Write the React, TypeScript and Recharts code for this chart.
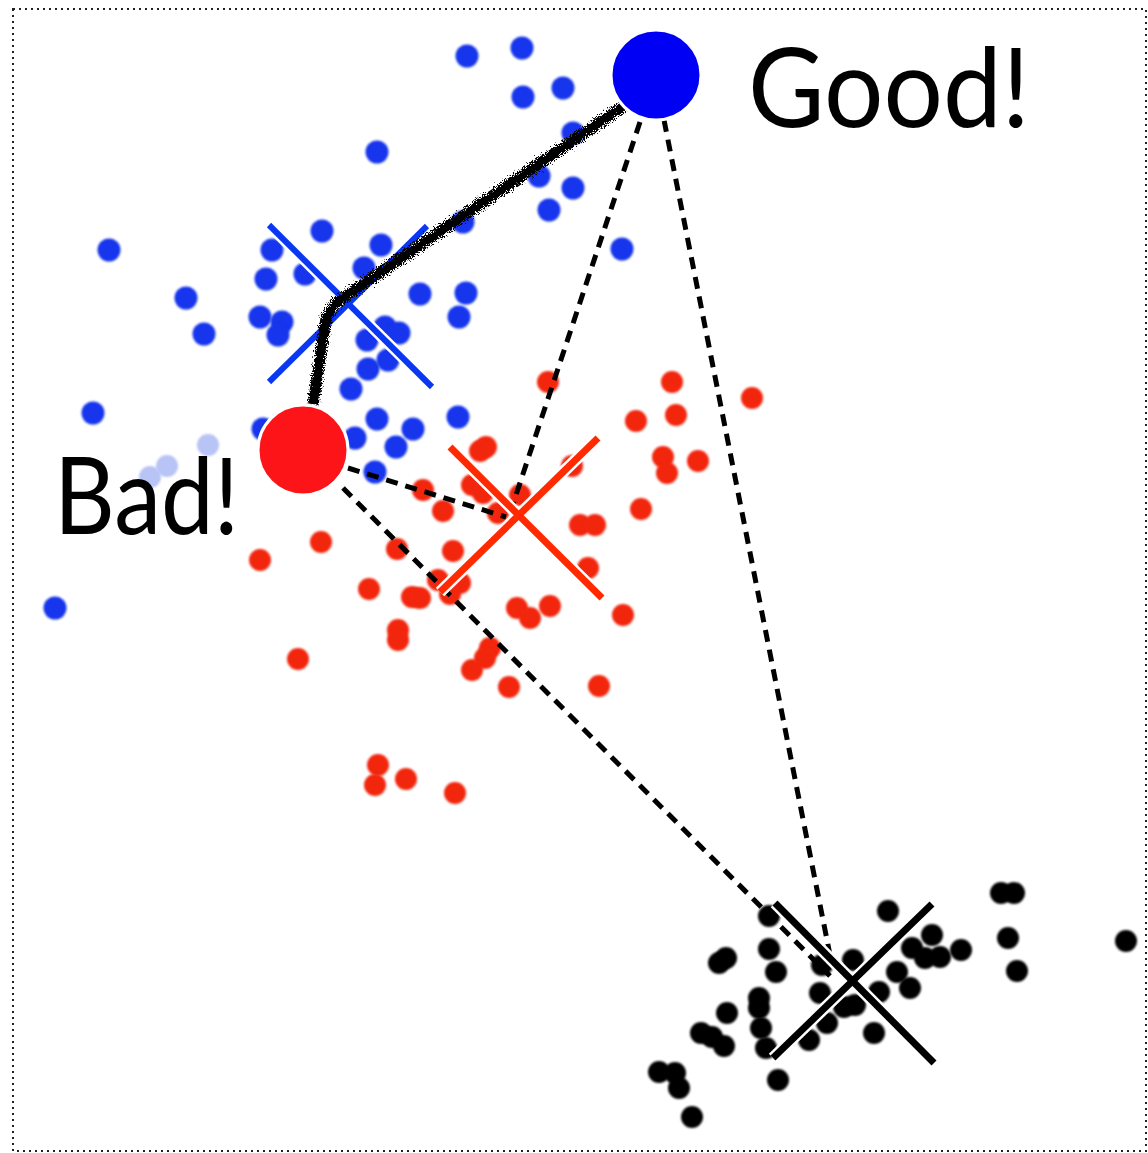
import { ScatterChart, Scatter, XAxis, YAxis, ReferenceArea } from 'recharts'

type P = [number, number]

const blueDots: P[] = [
  [467, 56], [522, 48], [523, 97], [563, 88], [573, 133], [377, 152], [539, 176], [573, 188],
  [549, 210], [463, 222], [622, 249], [109, 250], [322, 231], [272, 250], [381, 245], [266, 279],
  [305, 274], [364, 268], [186, 298], [204, 334], [260, 317], [282, 322], [278, 335], [420, 294],
  [466, 293], [459, 317], [385, 327], [399, 333], [367, 340], [388, 360], [368, 369], [351, 389],
  [377, 419], [413, 429], [458, 417], [355, 438], [396, 447], [375, 472], [263, 429], [93, 413],
  [55, 608],
]
const fadedDots: P[] = [[208, 445], [167, 466], [150, 477]]
const redDots: P[] = [
  [672, 382], [752, 398], [636, 421], [676, 415], [663, 457], [667, 473], [698, 461], [641, 509],
  [580, 525], [595, 525], [588, 568], [623, 615], [550, 606], [517, 608], [530, 618], [490, 648],
  [485, 658], [472, 670], [509, 687], [599, 686], [486, 447], [480, 451], [472, 485], [483, 493],
  [423, 490], [443, 511], [498, 513], [453, 551], [397, 549], [412, 597], [420, 598], [438, 580],
  [460, 583], [450, 594], [398, 630], [398, 640], [369, 589], [321, 542], [260, 560], [298, 659],
  [378, 765], [375, 785], [406, 779], [455, 793], [548, 382], [572, 466], [520, 495],
]
const blackDots: P[] = [
  [1001, 893], [1014, 893], [888, 911], [769, 916], [769, 949], [776, 972], [726, 958], [719, 963],
  [759, 998], [759, 1008], [727, 1013], [761, 1028], [766, 1048], [701, 1033], [712, 1037], [724, 1046],
  [659, 1072], [675, 1073], [679, 1088], [692, 1117], [778, 1080], [822, 965], [853, 960], [820, 993],
  [844, 1007], [855, 1005], [809, 1040], [827, 1023], [874, 1033], [879, 992], [897, 972], [910, 988],
  [912, 948], [932, 935], [925, 958], [940, 957], [961, 950], [1008, 938], [1017, 971], [1126, 941],
]

const goodPt: P = [656, 75]
const badPt: P = [303, 450]

// dashed distance lines
const dashes: P[][] = [
  [[640, 122], [512, 507]],
  [[664, 120], [831, 960]],
  [[348, 468], [506, 517]],
  [[343, 488], [830, 976]],
]
// centroid crosses
const blueCross: P[][] = [[[269, 225], [432, 387]], [[269, 382], [427, 226]]]
const redCross: P[][] = [[[450, 447], [602, 598]], [[440, 592], [598, 438]]]
const blackCross: P[][] = [[[775, 903], [934, 1063]], [[773, 1058], [932, 904]]]
// hand drawn path good -> blue centroid -> bad
const scribble: P[] = [[628, 103], [337, 302], [326, 318], [313, 405]]

const labels = [
  { x: 748, y: 127, text: 'Good!', len: 282, size: 110 },
  { x: 54, y: 534, text: 'Bad!', len: 185, size: 107 },
]

const BLUE = '#1435ec', RED = '#f2260c', BLK = '#000'
const toPts = (a: P[]) => a.map(([x, y]) => ({ x, y }))
const none = () => <g />

const dot = (fill: string, r: number, extra: any = {}) => (p: any) =>
  <circle cx={p.cx} cy={p.cy} r={r} fill={fill} {...extra} />

function seg(key: string, pts: P[], stroke: string, w: number, more: any = {}) {
  return (
    <Scatter key={key} data={toPts(pts)} fill={stroke} shape={none} isAnimationActive={false}
      line={{ stroke, strokeWidth: w, fill: 'none', ...more }} lineType="joint" />
  )
}

export default function App() {
  return (
    <div style={{ position: 'absolute', left: 0, top: 0, background: '#fff' }}>
      <ScatterChart width={1148} height={1153} margin={{ top: 0, right: 0, bottom: 0, left: 0 }}>
        <defs>
          <filter id="soft" x="-50%" y="-50%" width="200%" height="200%">
            <feGaussianBlur stdDeviation="0.8" />
          </filter>
          <filter id="rough" x="-10%" y="-10%" width="120%" height="120%">
            <feTurbulence type="fractalNoise" baseFrequency="0.9" numOctaves="3" result="n" />
            <feDisplacementMap in="SourceGraphic" in2="n" scale="9" />
          </filter>
        </defs>
        <XAxis type="number" dataKey="x" domain={[0, 1148]} hide allowDataOverflow />
        <YAxis type="number" dataKey="y" domain={[0, 1153]} reversed hide allowDataOverflow />
        <ReferenceArea x1={13} x2={1146} y1={9} y2={1151} fill="none" fillOpacity={0}
          stroke="#222" strokeWidth={2} strokeDasharray="2 4" />

        <Scatter data={toPts(fadedDots)} shape={dot('#b8c3f6', 11, { filter: 'url(#soft)' })} isAnimationActive={false} />
        <Scatter data={toPts(blueDots)} shape={dot(BLUE, 11.5, { filter: 'url(#soft)' })} isAnimationActive={false} />
        <Scatter data={toPts(redDots)} shape={dot(RED, 11, { filter: 'url(#soft)' })} isAnimationActive={false} />
        <Scatter data={toPts(blackDots)} shape={dot(BLK, 11, { filter: 'url(#soft)' })} isAnimationActive={false} />

        {dashes.map((d, i) => seg('d' + i, d, BLK, 5, { strokeDasharray: '12 8' }))}

        {blueCross.map((d, i) => seg('bh' + i, d, '#fff', 11))}
        {blueCross.map((d, i) => seg('b' + i, d, '#0a38f2', 6))}
        {redCross.map((d, i) => seg('rh' + i, d, '#fff', 12))}
        {redCross.map((d, i) => seg('r' + i, d, '#ff2a00', 7))}
        {blackCross.map((d, i) => seg('kh' + i, d, '#fff', 12))}
        {blackCross.map((d, i) => seg('k' + i, d, BLK, 7))}

        {seg('scr', scribble, BLK, 11, { filter: 'url(#rough)', strokeLinejoin: 'round' })}

        <Scatter data={toPts([goodPt])} shape={dot('#0000f4', 45, { stroke: '#fff', strokeWidth: 3 })} isAnimationActive={false} />
        <Scatter data={toPts([badPt])} shape={dot('#fd1419', 45, { stroke: '#fff', strokeWidth: 3 })} isAnimationActive={false} />

        {labels.map((l) => (
          <Scatter key={l.text} data={[{ x: l.x, y: l.y }]} isAnimationActive={false}
            shape={(p: any) => (
              <text x={p.cx} y={p.cy} fontFamily="Lato, 'Noto Sans', sans-serif" fontSize={l.size}
                textLength={l.len} lengthAdjust="spacingAndGlyphs" fill="#000">{l.text}</text>
            )} />
        ))}
      </ScatterChart>
    </div>
  )
}
